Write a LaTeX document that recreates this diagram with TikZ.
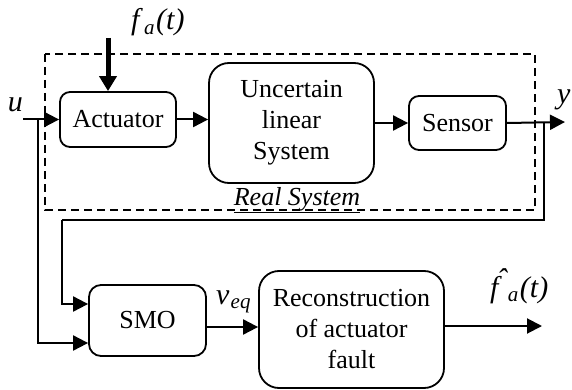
\documentclass[tikz,border=0pt]{standalone}
\usepackage{fontspec}
\setmainfont{Liberation Serif}
\usetikzlibrary{arrows.meta}
\newcommand{\isub}[2]{\textit{#1}\kern0.04em\raisebox{-0.3ex}{\fontsize{21}{21}\selectfont\textit{#2}}}
\newcommand{\fhat}{\ooalign{\textit{f}\cr\kern0.22em\raisebox{0.56ex}{\textit{\char"02C6}}\cr}}
\begin{document}
\begin{tikzpicture}[x=1pt,y=-1pt,
  blk/.style={draw,line width=1.8pt,inner sep=0pt,align=center,
    font=\fontsize{26}{31}\selectfont},
  conn/.style={line width=2pt,-{Triangle[length=15pt,width=15pt]}},
  wire/.style={line width=2pt},
  lbl/.style={inner sep=0pt,font=\fontsize{26}{31}\selectfont},
  mlbl/.style={inner sep=0pt,font=\fontsize{30}{34}\selectfont}]
\useasboundingbox (0,0) rectangle (572,390);
% dashed real system frame
\draw[line width=1.5pt,dash pattern=on 8pt off 5pt] (45,54) rectangle (535,210);
\node[lbl] (rs) at (297,200) {\underline{\textit{Real System}}};
% blocks
\node[blk,rounded corners=10pt,minimum width=116pt,minimum height=55pt] (act) at (118,119.5) {Actuator};
\node[blk,rounded corners=20pt,minimum width=165pt,minimum height=120pt] (sys) at (291.5,123) {Uncertain\\linear\\System};
\node[blk,rounded corners=10pt,minimum width=97pt,minimum height=54pt] (sen) at (457.5,123) {Sensor};
\node[blk,rounded corners=12pt,minimum width=117pt,minimum height=71pt] (smo) at (147.5,320.5) {SMO};
\node[blk,rounded corners=20pt,minimum width=185pt,minimum height=117pt] (rec) at (351.5,329.5) {Reconstruction\\of actuator\\fault};
% labels
\node[mlbl,anchor=base] (ul) at (15.5,112) {\textit{u}};
\node[mlbl,anchor=base west] (yl) at (557,104) {\textit{y}};
\node[mlbl,anchor=base west] (fal) at (131,30) {\isub{f}{a}\kern0.05em\textit{(t)}};
\node[mlbl,anchor=base west] (veq) at (216,304) {\isub{v}{eq}};
\node[mlbl,anchor=base west] (fh) at (490,297) {\isub{\fhat}{a}\kern0.05em\textit{(t)}};
% coordinates
\coordinate (uin) at (23,119.5);
\coordinate (ub) at (38,119.5);
\coordinate (fatop) at (108,38);
\coordinate (yout) at (565,122);
\coordinate (yb) at (544,122);
\coordinate (fb) at (62,220);
\coordinate (out) at (542,326);
% connectors
\draw[conn] (uin) -- (act.west);
\draw[conn] (ub) |- ([yshift=-22.5pt]smo.west);
\draw[line width=5pt,-{Triangle[length=15pt,width=17pt]}] (fatop) -- (fatop |- act.north);
\draw[conn] (act.east) -- (act.east -| sys.west);
\draw[conn] (sen.west -| sys.east) -- (sen.west);
\draw[conn] (sen.east) -- (yout);
\draw[wire] (yb) |- (fb);
\draw[conn] (fb) |- ([yshift=16.5pt]smo.west);
\draw[conn] ([yshift=-6.5pt]smo.east) -- ([yshift=-6.5pt]smo.east -| rec.west);
\draw[conn] (rec.east |- out) -- (out);
\end{tikzpicture}
\end{document}
